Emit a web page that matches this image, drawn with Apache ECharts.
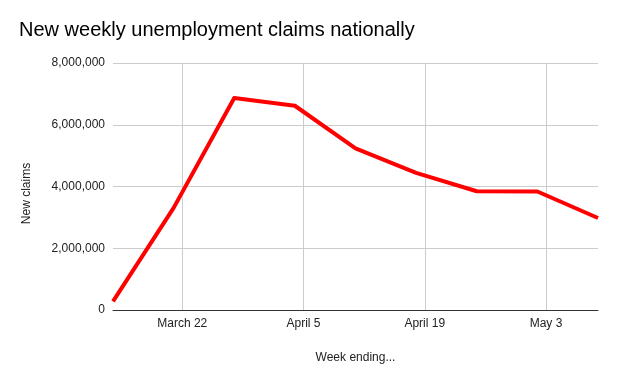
<!DOCTYPE html>
<html>
<head>
<meta charset="utf-8">
<script src="https://cdn.jsdelivr.net/npm/echarts@6/dist/echarts.min.js"></script>
<style>
html,body{margin:0;padding:0;background:#fff;}
#chart{width:618px;height:382px;}
</style>
</head>
<body>
<div id="chart"></div>
<script>
// Week-ending dates (2020) and new claims
var weekEnding = ['2020-03-14','2020-03-21','2020-03-28','2020-04-04','2020-04-11','2020-04-18','2020-04-25','2020-05-02','2020-05-09'];
var newClaims = [282000, 3307000, 6867000, 6615000, 5237000, 4442000, 3846000, 3839000, 2981000];
var xTickDates = ['2020-03-22','2020-04-05','2020-04-19','2020-05-03'];
var yTicks = [0, 2000000, 4000000, 6000000, 8000000];

var MONTHS = ['January','February','March','April','May','June','July','August','September','October','November','December'];
function ts(s){ var p = s.split('-'); return Date.UTC(+p[0], +p[1]-1, +p[2]); }
function fmtDate(v){ var d = new Date(v); return MONTHS[d.getUTCMonth()] + ' ' + d.getUTCDate(); }

var seriesData = weekEnding.map(function(d,i){ return [ts(d), newClaims[i]]; });
var tickVals = xTickDates.map(ts);

var chart = echarts.init(document.getElementById('chart'), null, {renderer:'canvas'});
chart.setOption({
  animation: false,
  backgroundColor: '#ffffff',
  textStyle: { fontFamily: 'Liberation Sans, Arial, sans-serif' },
  title: {
    text: 'New weekly unemployment claims nationally',
    left: 14, top: 15,
    textStyle: { fontFamily: 'Liberation Sans, Arial, sans-serif', fontSize: 20, fontWeight: 'normal', color: '#000' }
  },
  grid: { left: 113, right: 20, top: 63, bottom: 72 },
  xAxis: {
    type: 'value',
    min: ts(weekEnding[0]),
    max: ts(weekEnding[weekEnding.length-1]),
    name: 'Week ending...',
    nameLocation: 'middle',
    nameGap: 42,
    nameTextStyle: { fontSize: 12, color: '#222' },
    axisLine: { show: true, onZero: false, lineStyle: { color: '#333', width: 1 } },
    axisTick: { show: false, customValues: tickVals },
    axisLabel: { customValues: tickVals, formatter: fmtDate, fontSize: 12, color: '#222', margin: 8 },
    splitLine: { show: true, showMinLine: true, showMaxLine: true, lineStyle: { color: '#cccccc', width: 1 } }
  },
  yAxis: {
    type: 'value',
    min: yTicks[0], max: yTicks[yTicks.length-1], interval: 2000000,
    name: 'New claims',
    nameLocation: 'middle',
    nameGap: 80,
    nameRotate: 90,
    nameTextStyle: { fontSize: 12, color: '#222', padding: [0, 14, 0, 0] },
    axisLine: { show: false },
    axisTick: { show: false },
    axisLabel: {
      fontSize: 12, color: '#222', margin: 8,
      formatter: function(v){ return v.toLocaleString('en-US'); }
    },
    splitLine: { show: true, lineStyle: { color: '#cccccc', width: 1 } }
  },
  series: [{
    type: 'line',
    data: seriesData,
    showSymbol: false,
    symbol: 'none',
    lineStyle: { color: '#ff0000', width: 4, join: 'round' },
    itemStyle: { color: '#ff0000' }
  }]
});
</script>
</body>
</html>
